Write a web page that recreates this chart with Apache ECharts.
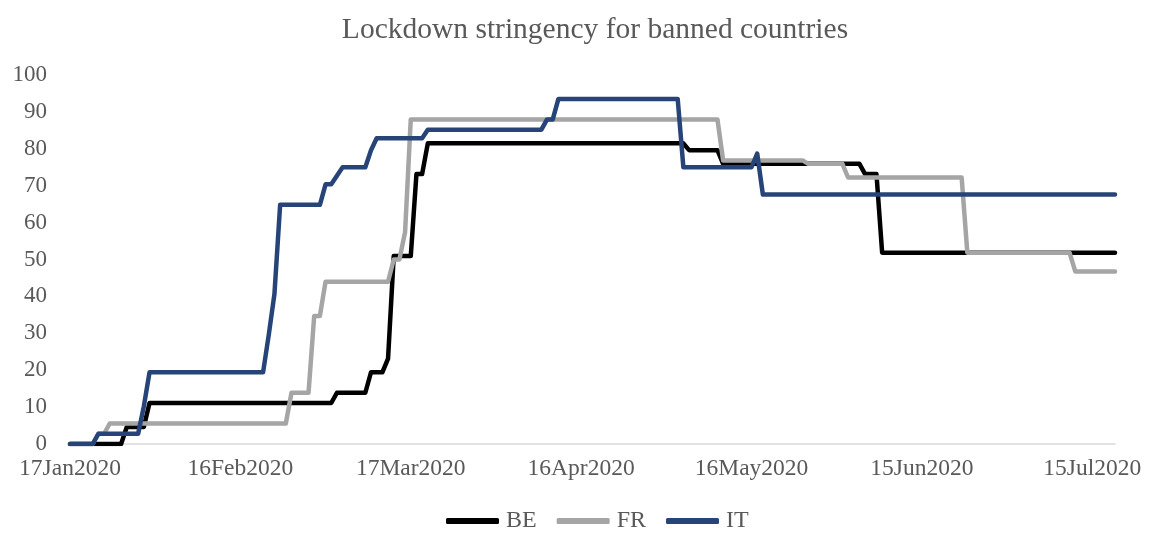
<!DOCTYPE html>
<html>
<head>
<meta charset="utf-8">
<script src="https://cdn.jsdelivr.net/npm/echarts@6/dist/echarts.min.js"></script>
<style>
  html, body { margin: 0; padding: 0; background: #ffffff; }
  #chart { width: 1152px; height: 534px; }
</style>
</head>
<body>
<div id="chart"></div>
<script>
// Day index 0 = 17 Jan 2020; each pair is [day, stringency index].
var tickLabels = ['17Jan2020', '16Feb2020', '17Mar2020', '16Apr2020', '16May2020', '15Jun2020', '15Jul2020'];
var lastDay = 184;

var beValues = [
  [0, 0], [9, 0], [10, 4.63], [13, 4.63], [14, 11.11], [46, 11.11], [47, 13.89], [52, 13.89],
  [53, 19.44], [55, 19.44], [56, 23.15], [57, 50.93], [60, 50.93], [61, 73.15], [62, 73.15],
  [63, 81.48], [108, 81.48], [109, 79.63], [114, 79.63], [115, 75.93], [139, 75.93],
  [140, 73.15], [142, 73.15], [143, 51.85], [184, 51.85]
];
var frValues = [
  [0, 0], [4, 0], [5, 2.78], [6, 2.78], [7, 5.56], [38, 5.56], [39, 13.89], [42, 13.89],
  [43, 34.72], [44, 34.72], [45, 43.98], [56, 43.98], [57, 50.0], [58, 50.0], [59, 57.41],
  [60, 87.96], [114, 87.96], [115, 76.85], [129, 76.85], [130, 75.93], [136, 75.93],
  [137, 72.22], [157, 72.22], [158, 51.85], [176, 51.85], [177, 46.76], [184, 46.76]
];
var itValues = [
  [0, 0], [4, 0], [5, 2.78], [12, 2.78], [13, 10.19], [14, 19.44], [34, 19.44], [35, 29.6],
  [36, 40.7], [37, 64.81], [44, 64.81], [45, 70.37], [46, 70.37], [47, 72.69], [48, 75.0],
  [52, 75.0], [53, 79.63], [54, 82.87], [62, 82.87], [63, 85.19], [83, 85.19], [84, 87.96],
  [85, 87.96], [86, 93.52], [107, 93.52], [108, 75.0], [120, 75.0], [121, 78.7],
  [122, 67.59], [184, 67.59]
];

var seriesNames = ['BE', 'FR', 'IT'];
var seriesColors = ['#000000', '#a5a5a5', '#264478'];
var seriesData = [beValues, frValues, itValues];

var serif = "'Liberation Serif', 'Times New Roman', serif";
var textGray = '#595959';

var chart = echarts.init(document.getElementById('chart'), null, { renderer: 'canvas' });

chart.setOption({
  animation: false,
  backgroundColor: '#ffffff',
  title: {
    text: 'Lockdown stringency for banned countries',
    left: 590,
    textAlign: 'center',
    top: 10,
    textStyle: { fontFamily: serif, fontSize: 29.5, fontWeight: 'normal', color: textGray }
  },
  legend: {
    data: seriesNames,
    top: 509,
    left: 446,
    padding: 0,
    icon: 'roundRect',
    itemWidth: 53,
    itemHeight: 6,
    itemGap: 20,
    textStyle: { fontFamily: serif, fontSize: 24, color: textGray, padding: [0, 0, 0, 2] }
  },
  grid: { left: 70, right: 37, top: 75, bottom: 90 },
  xAxis: {
    type: 'value',
    min: 0,
    max: lastDay,
    interval: 30,
    splitLine: { show: false },
    axisTick: { show: false },
    axisLine: { show: true, lineStyle: { color: '#d9d9d9', width: 1.5 } },
    axisLabel: {
      fontFamily: serif,
      fontSize: 23.5,
      color: textGray,
      margin: 13,
      showMaxLabel: false,
      formatter: function (v) {
        var i = Math.round(v / 30);
        return (v % 30 === 0 && tickLabels[i]) ? tickLabels[i] : '';
      }
    }
  },
  yAxis: {
    type: 'value',
    min: 0,
    max: 100,
    interval: 10,
    splitLine: { show: false },
    axisLine: { show: false },
    axisTick: { show: false },
    axisLabel: { fontFamily: serif, fontSize: 23, color: textGray, margin: 23 }
  },
  series: seriesNames.map(function (name, k) {
    return {
      name: name,
      type: 'line',
      data: seriesData[k],
      showSymbol: false,
      symbol: 'none',
      color: seriesColors[k],
      lineStyle: { color: seriesColors[k], width: 4.5, cap: 'round', join: 'round' },
      itemStyle: { color: seriesColors[k] }
    };
  })
});
</script>
</body>
</html>
